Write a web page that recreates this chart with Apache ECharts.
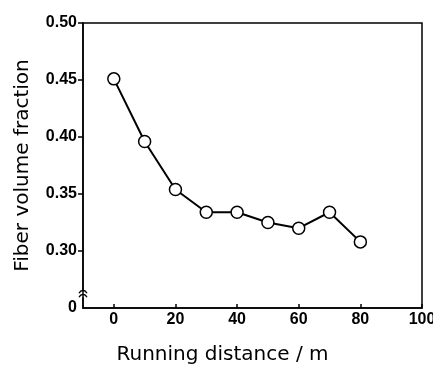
<!DOCTYPE html>
<html><head><meta charset="utf-8">
<script src="https://cdn.jsdelivr.net/npm/echarts@6/dist/echarts.min.js"></script>
<style>html,body{margin:0;padding:0;background:#fff}#c{width:433px;height:365px}</style>
</head><body><div id="c"></div>
<script>
const distances = [0, 10, 20, 30, 40, 50, 60, 70, 80];
const fractions = [0.451, 0.396, 0.354, 0.334, 0.334, 0.325, 0.320, 0.334, 0.308];
const xTicks = [0, 20, 40, 60, 80, 100];
const yTicks = [0.25, 0.30, 0.35, 0.40, 0.45, 0.50];
const yTickLabels = ['0', '0.30', '0.35', '0.40', '0.45', '0.50'];

const chart = echarts.init(document.getElementById('c'), null, {renderer: 'canvas'});
const font = 'Liberation Sans';
const nameFont = 'DejaVu Sans';
chart.setOption({
  animation: false,
  grid: {left: 83, top: 23, right: 11, bottom: 57, show: true, borderColor: '#000', borderWidth: 1.5,
    containLabel: false, outerBoundsMode: 'none'},
  xAxis: {
    type: 'value', min: -10, max: 100,
    name: 'Running distance / m', nameLocation: 'middle', nameGap: 37,
    nameTextStyle: {fontFamily: nameFont, fontSize: 20, color: '#000', padding: [0, 60, 0, 0]},
    axisLine: {show: true, onZero: false, lineStyle: {color: '#000', width: 1.5}},
    axisTick: {show: true, inside: true, length: 4, customValues: xTicks, lineStyle: {color: '#000', width: 1.5}},
    axisLabel: {customValues: xTicks, color: '#000', fontFamily: font, fontSize: 16, fontWeight: 'bold', margin: 4},
    splitLine: {show: false}
  },
  yAxis: {
    type: 'value', min: 0.25, max: 0.50,
    name: 'Fiber volume fraction', nameLocation: 'middle', nameGap: 50,
    nameTextStyle: {fontFamily: nameFont, fontSize: 20, color: '#000'},
    axisLine: {show: true, onZero: false, lineStyle: {color: '#000', width: 1.5}},
    axisTick: {show: true, inside: false, length: 5, customValues: yTicks.slice(1), lineStyle: {color: '#000', width: 1.5}},
    axisLabel: {customValues: yTicks, color: '#000', fontFamily: font, fontSize: 16, fontWeight: 'bold', margin: 6,
      formatter: function (v) { const i = yTicks.findIndex(t => Math.abs(t - v) < 1e-6); return i >= 0 ? yTickLabels[i] : ''; }},
    splitLine: {show: false}
  },
  series: [{
    type: 'line',
    data: distances.map((d, i) => [d, fractions[i]]),
    symbol: 'circle', symbolSize: 12,
    lineStyle: {color: '#000', width: 2},
    itemStyle: {color: '#fff', borderColor: '#000', borderWidth: 1.5},
    z: 3
  }]
});

// axis break marker on the y axis
const p = chart.convertToPixel({gridIndex: 0}, [-10, 0.262]);
chart.setOption({
  graphic: [{
    type: 'group', x: p[0], y: p[1], z: 10,
    children: [
      {type: 'rect', shape: {x: -4, y: -3, width: 8, height: 6}, style: {fill: '#fff'}},
      {type: 'bezierCurve', shape: {x1: -4, y1: -1, cpx1: -2, cpy1: -5, cpx2: 2, cpy2: -5, x2: 4, y2: -1}, style: {stroke: '#000', lineWidth: 1.3, fill: null}},
      {type: 'bezierCurve', shape: {x1: -4, y1: 3, cpx1: -2, cpy1: -1, cpx2: 2, cpy2: -1, x2: 4, y2: 3}, style: {stroke: '#000', lineWidth: 1.3, fill: null}}
    ]
  }]
});
</script></body></html>
